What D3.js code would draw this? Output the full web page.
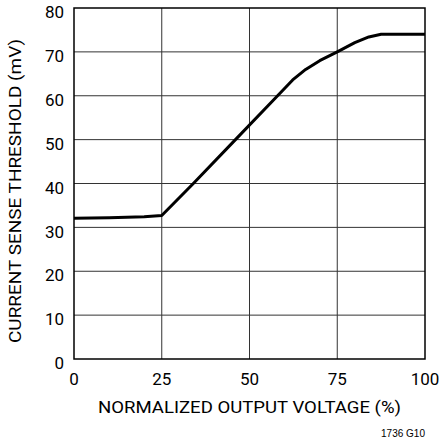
<!DOCTYPE html>
<html>
<head>
<meta charset="utf-8">
<script src="https://cdn.jsdelivr.net/npm/d3@7"></script>
<style>
  body { margin: 0; background: #fff; }
  svg { display: block; }
  text { font-family: Roboto, "Liberation Sans", sans-serif; fill: #000; }
</style>
</head>
<body>
<svg id="chart" width="440" height="447"></svg>
<script>
// curve
const voltage = [0, 10, 20, 25, 34, 46, 58, 62.3, 66, 70, 75, 80, 84, 87.5, 100];
const threshold = [32.1, 32.2, 32.4, 32.7, 40, 50, 60, 63.6, 66, 68, 70, 72.1, 73.4, 74, 74];
const xTicks = [0, 25, 50, 75, 100];
const yTicks = [0, 10, 20, 30, 40, 50, 60, 70, 80];

const margin = {left: 74, right: 15, top: 8, bottom: 88};
const width = 440, height = 447;

let svg = d3.select("#chart");

let x = d3.scaleLinear().domain([0, 100]).range([margin.left, width - margin.right]);
let y = d3.scaleLinear().domain([0, 80]).range([height - margin.bottom, margin.top]);

// grid
svg.append("g")
    .selectAll("line")
    .data(xTicks.slice(1, -1))
    .enter().append("line")
    .attr("x1", d => x(d)).attr("x2", d => x(d))
    .attr("y1", y(0)).attr("y2", y(80))
    .style("stroke", "#333").style("stroke-width", "1px");

svg.append("g")
    .selectAll("line")
    .data(yTicks.slice(1, -1))
    .enter().append("line")
    .attr("x1", x(0)).attr("x2", x(100))
    .attr("y1", d => y(d)).attr("y2", d => y(d))
    .style("stroke", "#333").style("stroke-width", "1px");

// frame
svg.append("rect")
    .attr("x", x(0)).attr("y", y(80))
    .attr("width", x(100) - x(0)).attr("height", y(0) - y(80))
    .style("fill", "none").style("stroke", "#000").style("stroke-width", "1.5px");

// tick labels
svg.append("g")
    .selectAll("text")
    .data(xTicks)
    .enter().append("text")
    .attr("x", d => x(d))
    .attr("y", y(0) + 26)
    .style("text-anchor", "middle")
    .style("font-size", "17px")
    .text(d => d);

svg.append("g")
    .selectAll("text")
    .data(yTicks)
    .enter().append("text")
    .attr("x", x(0) - 10)
    .attr("y", d => y(d))
    .attr("dy", "0.6em")
    .style("text-anchor", "end")
    .style("font-size", "17px")
    .text(d => d);

// the curve
let line = d3.line()
    .x((d, i) => x(voltage[i]))
    .y(d => y(d));

svg.append("path")
    .attr("d", line(threshold))
    .style("fill", "none")
    .style("stroke", "#000")
    .style("stroke-width", "3px")
    .style("stroke-linejoin", "round");

// axis titles
svg.append("text")
    .attr("x", (x(0) + x(100)) / 2)
    .attr("y", y(0) + 29 + 25)
    .style("text-anchor", "middle")
    .style("font-size", "16.5px")
    .attr("textLength", 303)
    .attr("lengthAdjust", "spacingAndGlyphs")
    .text("NORMALIZED OUTPUT VOLTAGE (%)");

svg.append("text")
    .attr("transform", "translate(21," + 191 + ") rotate(-90)")
    .style("text-anchor", "middle")
    .style("font-size", "16.5px")
    .attr("textLength", 304)
    .attr("lengthAdjust", "spacingAndGlyphs")
    .text("CURRENT SENSE THRESHOLD (mV)");

svg.append("text")
    .attr("x", x(100))
    .attr("y", 437)
    .style("text-anchor", "end")
    .style("font-size", "10px")
    .style("font-family", "'Liberation Sans', Arial, sans-serif")
    .text("1736 G10");
</script>
</body>
</html>
